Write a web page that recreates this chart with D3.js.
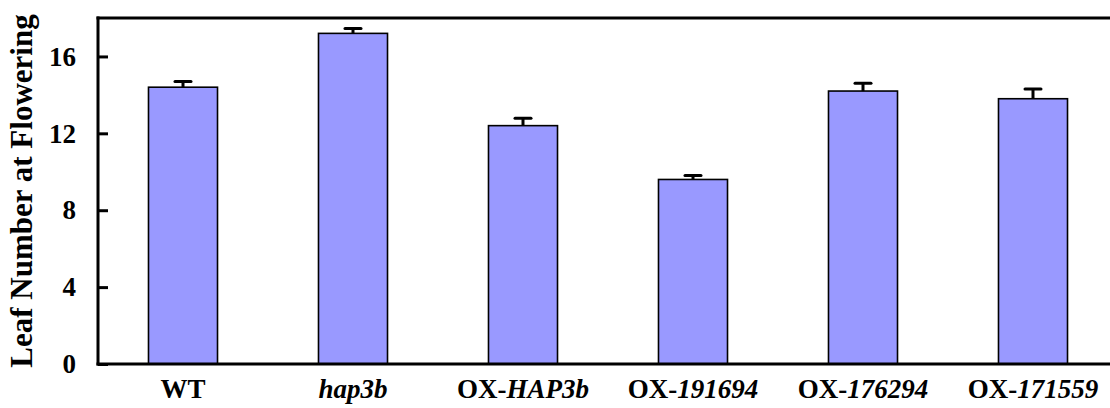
<!DOCTYPE html>
<html>
<head>
<meta charset="utf-8">
<script src="https://cdn.jsdelivr.net/npm/d3@7"></script>
<style>
  body { margin: 0; background: #fff; }
</style>
</head>
<body>
<div id="chart"></div>
<script>
// data
var lines = ["WT", "hap3b", "OX-HAP3b", "OX-191694", "OX-176294", "OX-171559"];
var leafNumber = [14.4, 17.2, 12.4, 9.6, 14.2, 13.8];
var stdErr = [0.3, 0.25, 0.38, 0.2, 0.4, 0.5];
var yTicks = [0, 4, 8, 12, 16];
// label pieces: [text, italic?]
var labelParts = [
    [["WT", false]],
    [["hap3b", true]],
    [["OX-", false], ["HAP3b", true]],
    [["OX-", false], ["191694", true]],
    [["OX-", false], ["176294", true]],
    [["OX-", false], ["171559", true]]
];

const W = 1110, H = 408;
const plotLeft = 98, plotTop = 18, plotBottom = 364, plotRight = 1118;
const serif = "'Liberation Serif', 'Times New Roman', Tinos, 'DejaVu Serif', serif";

var svg = d3.select('#chart').append('svg')
    .attr('width', W)
    .attr('height', H)
    .attr('font-family', serif)
    .attr('font-weight', 'bold');

var xScale = d3.scaleBand()
    .domain(lines)
    .range([plotLeft, plotRight])
    .paddingInner(0.594)
    .paddingOuter(0.297);

var yScale = d3.scaleLinear()
    .domain([0, 18])
    .range([plotBottom, plotTop]);

// bars
svg.selectAll('rect.bar')
    .data(lines)
    .enter().append('rect')
    .attr('class', 'bar')
    .attr('x', function(d) { return xScale(d); })
    .attr('y', function(d, i) { return yScale(leafNumber[i]); })
    .attr('width', xScale.bandwidth())
    .attr('height', function(d, i) { return plotBottom - yScale(leafNumber[i]); })
    .attr('fill', '#9999ff')
    .attr('stroke', '#000')
    .attr('stroke-width', 1.6);

// error bars (upper half only)
var err = svg.selectAll('g.err')
    .data(lines)
    .enter().append('g')
    .attr('class', 'err')
    .attr('stroke', '#000')
    .attr('stroke-width', 3);
err.append('line')
    .attr('x1', function(d) { return xScale(d) + xScale.bandwidth() / 2; })
    .attr('x2', function(d) { return xScale(d) + xScale.bandwidth() / 2; })
    .attr('y1', function(d, i) { return yScale(leafNumber[i]); })
    .attr('y2', function(d, i) { return yScale(leafNumber[i] + stdErr[i]); });
err.append('line')
    .attr('x1', function(d) { return xScale(d) + xScale.bandwidth() / 2 - 8; })
    .attr('x2', function(d) { return xScale(d) + xScale.bandwidth() / 2 + 8; })
    .attr('y1', function(d, i) { return yScale(leafNumber[i] + stdErr[i]); })
    .attr('y2', function(d, i) { return yScale(leafNumber[i] + stdErr[i]); })
    .attr('stroke-linecap', 'round');

// y axis, ticks pointing inward
var yAxis = d3.axisRight(yScale)
    .tickValues(yTicks)
    .tickSize(10)
    .tickFormat('');
var yg = svg.append('g')
    .attr('transform', 'translate(' + plotLeft + ',0)')
    .call(yAxis);
yg.select('.domain').remove();
yg.selectAll('.tick line').attr('stroke', '#000').attr('stroke-width', 3);

svg.selectAll('text.ytick')
    .data(yTicks)
    .enter().append('text')
    .attr('class', 'ytick')
    .attr('x', 76)
    .attr('y', function(d) { return yScale(d); })
    .attr('dy', '0.34em')
    .attr('text-anchor', 'end')
    .attr('font-size', 27)
    .text(function(d) { return d; });

// frame: left axis, bottom axis, top line
svg.append('line').attr('x1', plotLeft).attr('x2', plotLeft).attr('y1', plotTop - 1.5).attr('y2', plotBottom + 1.5)
    .attr('stroke', '#000').attr('stroke-width', 3);
svg.append('line').attr('x1', plotLeft - 1.5).attr('x2', W).attr('y1', plotBottom).attr('y2', plotBottom)
    .attr('stroke', '#000').attr('stroke-width', 3);
svg.append('line').attr('x1', plotLeft - 1.5).attr('x2', W).attr('y1', plotTop).attr('y2', plotTop)
    .attr('stroke', '#000').attr('stroke-width', 3);

// x labels
var xl = svg.selectAll('text.xlab')
    .data(lines)
    .enter().append('text')
    .attr('class', 'xlab')
    .attr('x', function(d) { return xScale(d) + xScale.bandwidth() / 2; })
    .attr('y', 398)
    .attr('text-anchor', 'middle')
    .attr('font-size', 27);
xl.each(function(d, i) {
    var t = d3.select(this);
    labelParts[i].forEach(function(p) {
        t.append('tspan').text(p[0]).attr('font-style', p[1] ? 'italic' : 'normal');
    });
});

// y axis title
svg.append('text')
    .attr('transform', 'translate(32,' + 191 + ') rotate(-90)')
    .attr('text-anchor', 'middle')
    .attr('font-size', 31)
    .text('Leaf Number at Flowering');
</script>
</body>
</html>
